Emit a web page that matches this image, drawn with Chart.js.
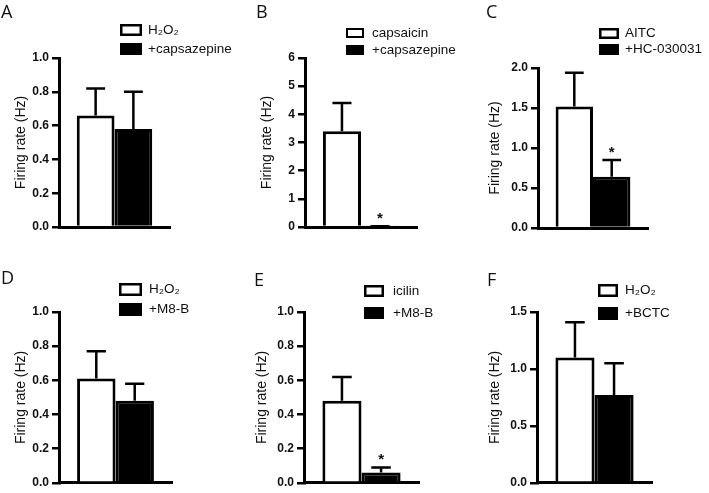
<!DOCTYPE html>
<html>
<head>
<meta charset="utf-8">
<script src="https://cdn.jsdelivr.net/npm/chart.js@4"></script>
<style>
  html, body { margin: 0; padding: 0; background: #fff; }
  #wrap { position: relative; width: 709px; height: 493px; overflow: hidden; }
  #wrap canvas { position: absolute; }
</style>
</head>
<body>
<div id="wrap"></div>
<script>
const letters = ['A', 'B', 'C', 'D', 'E', 'F'];
const controlLabels = ['H₂O₂', 'capsaicin', 'AITC', 'H₂O₂', 'icilin', 'H₂O₂'];
const drugLabels = ['+capsazepine', '+capsazepine', '+HC-030031', '+M8-B', '+M8-B', '+BCTC'];
const controlMean = [0.66, 3.40, 1.52, 0.61, 0.48, 1.10];
const controlSem = [0.16, 1.00, 0.42, 0.16, 0.14, 0.31];
const drugMean = [0.58, 0.02, 0.64, 0.48, 0.06, 0.77];
const drugSem = [0.22, 0.01, 0.21, 0.10, 0.03, 0.28];
const drugStar = [false, true, true, false, true, false];
const yTicks = [
  ['0.0', '0.2', '0.4', '0.6', '0.8', '1.0'],
  ['0', '1', '2', '3', '4', '5', '6'],
  ['0.0', '0.5', '1.0', '1.5', '2.0'],
  ['0.0', '0.2', '0.4', '0.6', '0.8', '1.0'],
  ['0.0', '0.2', '0.4', '0.6', '0.8', '1.0'],
  ['0.0', '0.5', '1.0', '1.5']
];
const yTitle = 'Firing rate (Hz)';

// page geometry per panel: canvas box, plot box, letter/axis title spots, legend
const frames = [
  {x: 0,   y: 0,   w: 244, h: 245, l: 59,  t: 58,  r: 170, b: 227, padL: 1,  capMid: 12,    titleX: 21,  bx: 120, by: 24,  bw: 22, bh: 12, gap: 19, lw: 2.5, tx: 148},
  {x: 236, y: 0,   w: 234, h: 245, l: 305, t: 58,  r: 417, b: 227, padL: 20, capMid: 11.5,  titleX: 267, bx: 346, by: 28,  bw: 18, bh: 10, gap: 17, lw: 2,   tx: 372},
  {x: 470, y: 0,   w: 239, h: 245, l: 538, t: 68,  r: 648, b: 228, padL: 16, capMid: 11.5,  titleX: 495, bx: 599, by: 28,  bw: 20, bh: 11, gap: 16, lw: 2.5, tx: 625},
  {x: 0,   y: 245, w: 236, h: 248, l: 59,  t: 312, r: 172, b: 484, padL: 1,  capMid: 278,   titleX: 21,  bx: 119, by: 283, bw: 23, bh: 13, gap: 20, lw: 2.5, tx: 149},
  {x: 236, y: 245, w: 234, h: 248, l: 304, t: 312, r: 419, b: 483, padL: 18, capMid: 279.5, titleX: 261, bx: 364, by: 285, bw: 20, bh: 12, gap: 22, lw: 2.5, tx: 393},
  {x: 470, y: 245, w: 239, h: 248, l: 537, t: 312, r: 652, b: 484, padL: 17, capMid: 279.5, titleX: 495, bx: 598, by: 284, bw: 20, bh: 13, gap: 23, lw: 2.5, tx: 625}
];

const sans = '"Liberation Sans", Arial, sans-serif';
const letterSize = 18;

// error bars, significance stars and the boxed legend
const decor = {
  id: 'decor',
  afterDatasetsDraw(chart, args, o) {
    const ctx = chart.ctx;
    const y = chart.scales.y;
    ctx.save();
    chart.data.datasets.forEach((ds, d) => {
      const bar = chart.getDatasetMeta(d).data[0];
      const top = y.getPixelForValue(ds.data[0] + ds.sem[0]);
      const half = bar.width / 4;
      ctx.strokeStyle = '#000';
      ctx.lineWidth = 2.5;
      ctx.beginPath();
      ctx.moveTo(bar.x, bar.y);
      ctx.lineTo(bar.x, top);
      ctx.moveTo(bar.x - half, top);
      ctx.lineTo(bar.x + half, top);
      ctx.stroke();
      if (ds.star[0]) {
        ctx.fillStyle = '#111';
        ctx.font = 'bold 15px ' + sans;
        ctx.textAlign = 'center';
        ctx.textBaseline = 'alphabetic';
        ctx.fillText('*', bar.x, top - 3);
      }

      const bx = o.bx, by = o.by + d * o.gap;
      ctx.fillStyle = ds.backgroundColor;
      ctx.fillRect(bx, by, o.bw, o.bh);
      ctx.lineWidth = o.lw;
      ctx.strokeRect(bx + o.lw / 2, by + o.lw / 2, o.bw - o.lw, o.bh - o.lw);
      ctx.fillStyle = '#111';
      ctx.font = '13.5px ' + sans;
      ctx.textAlign = 'left';
      ctx.textBaseline = 'middle';
      ctx.fillText(ds.label, o.tx, by + o.bh / 2);
    });
    ctx.restore();
  }
};

const wrap = document.getElementById('wrap');

frames.forEach((f, i) => {
  const cv = document.createElement('canvas');
  cv.width = f.w;
  cv.height = f.h;
  cv.style.left = f.x + 'px';
  cv.style.top = f.y + 'px';
  wrap.appendChild(cv);

  const tickVals = yTicks[i].map(Number);
  const lineH = letterSize * 1.2;
  const titleTop = f.capMid - f.y - lineH / 2 + 1;

  new Chart(cv, {
    type: 'bar',
    data: {
      labels: [''],
      datasets: [
        {label: controlLabels[i], data: [controlMean[i]], sem: [controlSem[i]], star: [false],
         backgroundColor: '#fff', borderColor: '#000', borderWidth: 3},
        {label: drugLabels[i], data: [drugMean[i]], sem: [drugSem[i]], star: [drugStar[i]],
         backgroundColor: '#000', borderColor: '#000', borderWidth: 3}
      ]
    },
    options: {
      responsive: false,
      animation: false,
      datasets: { bar: { categoryPercentage: 0.68, barPercentage: 1 } },
      layout: {
        padding: { left: f.padL, right: f.x + f.w - f.r, top: 0, bottom: f.y + f.h - f.b - 2 }
      },
      plugins: {
        legend: { display: false },
        tooltip: { enabled: false },
        title: {
          display: true,
          text: letters[i],
          align: 'start',
          color: '#111',
          font: { family: '"Open Sans", sans-serif', size: letterSize, weight: 'normal', lineHeight: 1.2 },
          padding: { top: titleTop, bottom: f.t - f.y - titleTop - lineH }
        },
        decor: {
          bx: f.bx - f.x, by: f.by - f.y, bw: f.bw, bh: f.bh, gap: f.gap, lw: f.lw, tx: f.tx - f.x
        }
      },
      scales: {
        x: {
          grid: { display: false },
          ticks: { display: false },
          border: { display: true, color: '#000', width: 3 },
          afterFit: s => { s.height = 2; }
        },
        y: {
          min: 0,
          max: tickVals[tickVals.length - 1],
          afterBuildTicks: s => { s.ticks = tickVals.map(v => ({ value: v })); },
          ticks: {
            callback: (v, k) => yTicks[i][k],
            color: '#111',
            padding: 3,
            font: { family: sans, size: 12, weight: 'bold' }
          },
          grid: { drawOnChartArea: false, drawTicks: true, tickLength: 7, lineWidth: 2.5, color: '#000' },
          border: { display: true, color: '#000', width: 3 },
          title: {
            display: true,
            text: yTitle,
            color: '#111',
            font: { family: sans, size: 14, weight: 'normal' },
            padding: { top: Math.max(0, f.titleX - f.x - f.padL - 8.4), bottom: 0 }
          },
          afterFit: s => { s.width = f.l - f.x - f.padL; }
        }
      }
    },
    plugins: [decor]
  });
});
</script>
</body>
</html>
